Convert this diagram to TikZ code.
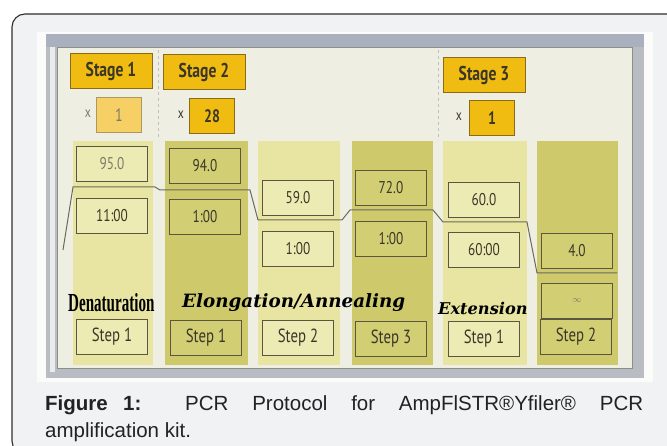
\documentclass[tikz,border=0pt]{standalone}
\usepackage{fontspec}
\setmainfont{Liberation Sans}
\newfontfamily\lcd[FakeStretch=0.78]{PT Sans}
\newfontfamily\denatfont[FakeStretch=0.58]{Liberation Serif}
\newfontfamily\phasefont{DejaVu Serif}

\definecolor{cardbg}{HTML}{F0F2F4}
\definecolor{cardline}{HTML}{2E2E2E}
\definecolor{photowhite}{HTML}{FBFBFA}
\definecolor{bezeltop}{HTML}{A9B1BE}
\definecolor{bezelside}{HTML}{B9BCC2}
\definecolor{screenbg}{HTML}{EFEEE2}
\definecolor{panelline}{HTML}{8E8E88}
\definecolor{stagefill}{HTML}{F1BC12}
\definecolor{stageline}{HTML}{8A6C18}
\definecolor{stagefaded}{HTML}{F6D064}
\definecolor{lightcol}{HTML}{E8E4A2}
\definecolor{darkcol}{HTML}{CECA6C}
\definecolor{lightbox}{HTML}{EDEBB4}
\definecolor{darkbox}{HTML}{D2CE74}
\definecolor{boxline}{HTML}{5C5640}
\definecolor{boxtext}{HTML}{3A3628}
\definecolor{fadedtext}{HTML}{7C7A66}
\definecolor{profile}{HTML}{6A6A5C}
\definecolor{captext}{HTML}{222222}

\tikzset{
  stagebox/.style={draw=stageline, line width=0.9pt, fill=stagefill,
    minimum width=82pt, minimum height=35pt, inner sep=0pt,
    font=\lcd\fontsize{20}{20}\selectfont\bfseries, text=boxtext},
  countbox/.style={draw=stageline, line width=0.9pt, fill=stagefill,
    minimum width=45pt, minimum height=35pt, inner sep=0pt,
    font=\lcd\fontsize{18}{18}\selectfont\bfseries, text=boxtext},
  timesign/.style={font=\lcd\fontsize{15}{15}\selectfont, text=fadedtext, inner sep=0pt},
  valbox/.style={draw=boxline, line width=1.1pt, minimum width=71pt,
    minimum height=35pt, inner sep=0pt,
    font=\lcd\fontsize{17}{17}\selectfont, text=boxtext},
  stepbox/.style={valbox, font=\lcd\fontsize{19}{19}\selectfont},
  onlight/.style={fill=lightbox},
  ondark/.style={fill=darkbox},
  phase/.style={inner sep=0pt, text=black, anchor=base west},
  capline/.style={inner sep=0pt, anchor=base west, text=captext,
    font=\fontsize{20.5}{27}\selectfont}
}

\begin{document}
\begin{tikzpicture}[x=1pt,y=-1pt]
\useasboundingbox (0,0) rectangle (667,446);
\clip (0,0) rectangle (667,446);

% caption card
\draw[fill=cardbg, draw=cardline, line width=1.1pt, rounded corners=13pt]
  (12,14) rectangle (682,454);

% photograph of the cycler screen
\fill[photowhite] (37,32) rectangle (653,382);
\fill[bezelside] (46,34) rectangle (644,378);
\fill[bezeltop] (46,34) rectangle (644,47);
\fill[white!70!bezelside] (50,47) rectangle (55,372);
\fill[screenbg] (57,47) rectangle (632,368);
\draw[panelline, line width=0.8pt] (57,47) rectangle (632,368);

% stage separators
\draw[black!25, dashed, line width=0.6pt] (158,50) -- (158,140);
\draw[black!25, dashed, line width=0.6pt] (438,50) -- (438,140);

% step columns
\fill[lightcol] (73,141) rectangle (153,365);
\fill[darkcol]  (165,141) rectangle (248,365);
\fill[lightcol] (258,141) rectangle (340,365);
\fill[darkcol]  (352,141) rectangle (433,365);
\fill[lightcol] (443,141) rectangle (527,365);
\fill[darkcol]  (537,141) rectangle (618,365);

% stage headers
\node[stagebox] (st1) at (111,71) {Stage 1};
\node[stagebox] (st2) at (204,72) {Stage 2};
\node[stagebox] (st3) at (484,75) {Stage 3};

% cycle counts
\node[timesign] (x1) at (88,114) {x};
\node[countbox, fill=stagefaded, draw=stageline!70, text=fadedtext,
  font=\lcd\fontsize{18}{18}\selectfont] (n1) at (119,115) {1};
\node[timesign, text=boxtext] (x2) at (181,115) {x};
\node[countbox] (n2) at (212,116) {28};
\node[timesign, text=boxtext] (x3) at (459,117) {x};
\node[countbox] (n3) at (492,118) {1};

% temperature and hold time boxes
\node[valbox, onlight, text=fadedtext] (t1) at (112,164) {95.0};
\node[valbox, onlight] (h1) at (112,216) {11:00};
\node[valbox, ondark] (t2) at (205,166) {94.0};
\node[valbox, ondark] (h2) at (205,217) {1:00};
\node[valbox, onlight] (t3) at (298,198) {59.0};
\node[valbox, onlight] (h3) at (298,249) {1:00};
\node[valbox, ondark] (t4) at (391,188) {72.0};
\node[valbox, ondark] (h4) at (391,239) {1:00};
\node[valbox, onlight] (t5) at (484,200) {60.0};
\node[valbox, onlight] (h5) at (484,250) {60:00};
\node[valbox, ondark] (t6) at (577,251) {4.0};
\node[valbox, ondark, text=fadedtext,
  font=\lcd\fontsize{9}{9}\selectfont] (h6) at (577,301) {$\infty$};

% step labels
\node[stepbox, onlight] (s1) at (112,337) {Step 1};
\node[stepbox, ondark]  (s2) at (206,338) {Step 1};
\node[stepbox, onlight] (s3) at (298,338) {Step 2};
\node[stepbox, ondark]  (s4) at (391,339) {Step 3};
\node[stepbox, onlight] (s5) at (484,339) {Step 1};
\node[stepbox, ondark]  (s6) at (576,337) {Step 2};

% phase names
\node[phase, font=\denatfont\fontsize{26}{26}\selectfont\bfseries] (ph1) at (68,312) {Denaturation};
\node[phase, font=\phasefont\fontsize{18.3}{18.3}\selectfont\bfseries\itshape] (ph2) at (182,308) {Elongation/Annealing};
\node[phase, font=\phasefont\fontsize{16.2}{16.2}\selectfont\bfseries\itshape] (ph3) at (438,315) {Extension};

% thermal profile trace
\coordinate (p0) at (63,250);
\coordinate (p1) at (73,187);
\coordinate (p2) at (155,187);
\coordinate (p3) at (160,190);
\coordinate (p4) at (250,190);
\coordinate (p5) at (258,220);
\coordinate (p6) at (342,220);
\coordinate (p7) at (350,210);
\coordinate (p8) at (433,210);
\coordinate (p9) at (443,222);
\coordinate (p10) at (527,222);
\coordinate (p11) at (537,273);
\coordinate (p12) at (617,273);
\draw[profile, line width=1pt] (p0) -- (p1) -- (p2) -- (p3) -- (p4) -- (p5)
  -- (p6) -- (p7) -- (p8) -- (p9) -- (p10) -- (p11) -- (p12);

% figure caption, first line justified to the full width
\node[capline] (cap1) at (45,410)
  {\makebox[598pt][s]{\textbf{Figure\hspace{0.75em}1:} PCR Protocol for AmpFlSTR\textregistered Yfiler\textregistered{} PCR}};
\node[capline] (cap2) at (45,437) {amplification kit.};
\end{tikzpicture}
\end{document}
